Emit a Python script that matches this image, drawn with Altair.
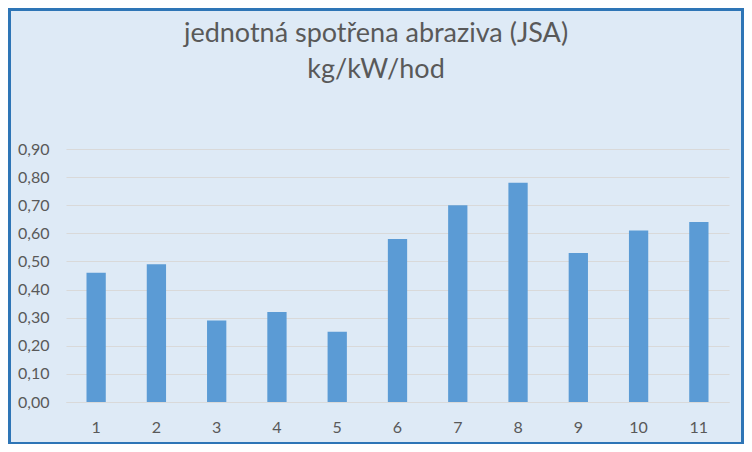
import altair as alt
import pandas as pd

categories = ["1", "2", "3", "4", "5", "6", "7", "8", "9", "10", "11"]
values = [0.46, 0.49, 0.29, 0.32, 0.25, 0.58, 0.70, 0.78, 0.53, 0.61, 0.64]
y_ticks = [0.0, 0.1, 0.2, 0.3, 0.4, 0.5, 0.6, 0.7, 0.8, 0.9]
title_lines = ["jednotná spotřena abraziva (JSA)", "kg/kW/hod"]

df = pd.DataFrame({"kat": categories, "hodnota": values})

FONT = "Lato"
TXT = "#595959"
BG = "#DEEAF6"
BORDER = "#2E75B6"

bars = alt.Chart(df).mark_bar(color="#5B9BD5").encode(
    x=alt.X("kat:N", sort=categories, title=None,
            scale=alt.Scale(paddingInner=0.68, paddingOuter=0.34),
            axis=alt.Axis(labelAngle=0, labelFont=FONT, labelFontSize=16,
                          labelColor=TXT, ticks=False, domain=True,
                          domainColor="#D9D9D9", labelPadding=17)),
    y=alt.Y("hodnota:Q", title=None,
            scale=alt.Scale(domain=[0, 0.9], nice=False),
            axis=alt.Axis(values=y_ticks, labelFont=FONT, labelFontSize=16,
                          labelColor=TXT, ticks=False, domain=False,
                          gridColor="#D9D9D9", gridWidth=1, labelPadding=17,
                          labelExpr="replace(format(datum.value, '.2f'), '.', ',')")),
)

border = alt.Chart(pd.DataFrame({"b": [0]})).mark_rect(
    fill=None, stroke=BORDER, strokeWidth=3, clip=False
).encode(
    x=alt.value(-56.5), x2=alt.value(676.5),
    y=alt.value(-139.5), y2=alt.value(294.5),
)

chart = alt.layer(bars, border).properties(
    width=663, height=253,
    autosize=alt.AutoSizeParams(type="none"),
    padding={"left": 58, "top": 141, "right": 15, "bottom": 42},
    background=BG,
    title=alt.TitleParams(text=title_lines, font=FONT, fontSize=27,
                          fontWeight="normal", color=TXT, anchor="middle",
                          frame="group", dx=-21.5, offset=-103,
                          baseline="bottom", lineHeight=36),
).configure_view(stroke=None)

chart.save("out.html", embed_options={"renderer": "svg", "actions": False})
